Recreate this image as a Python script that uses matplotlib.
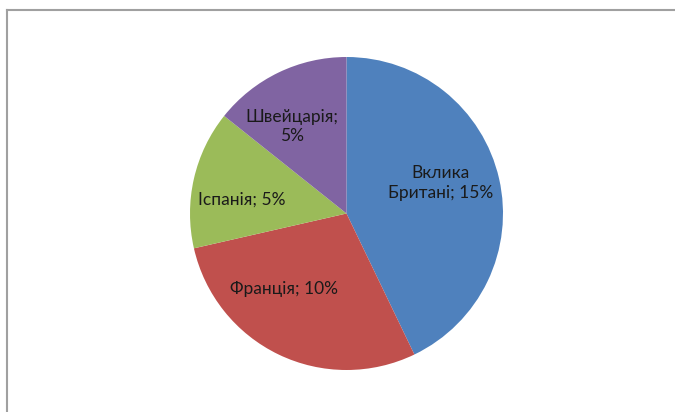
import matplotlib.pyplot as plt
from matplotlib.lines import Line2D

# частки країн
countries = ['Вклика\nБритані', 'Франція', 'Іспанія', 'Швейцарія;\n']
shares = [15, 10, 5, 5]
colors = ['#4F81BD', '#C0504D', '#9BBB59', '#8064A2']

labels = []
for name, v in zip(countries, shares):
    if name.endswith('\n'):
        labels.append(name + '%d%%' % v)
    else:
        labels.append('%s; %d%%' % (name, v))

# де стоять підписи всередині секторів (в радіусах круга)
label_pos = [(0.60, 0.195), (-0.40, -0.48), (-0.67, 0.086), (-0.35, 0.556)]

fig = plt.figure(figsize=(6.75, 4.12), dpi=100)
fig.patch.set_facecolor('white')

ax = fig.add_axes([(346.5 - 156.5) / 675, (412 - 213.5 - 156.5) / 412,
                   313 / 675, 313 / 412])
wedges, texts = ax.pie(shares, labels=labels, colors=colors, startangle=90,
                       counterclock=False, labeldistance=0.64,
                       wedgeprops={'linewidth': 0},
                       textprops={'ha': 'center', 'va': 'center',
                                  'multialignment': 'center',
                                  'linespacing': 1.3,
                                  'fontsize': 12.5, 'family': 'Lato',
                                  'color': '#1a1a1a'})
for t, p in zip(texts, label_pos):
    t.set_position(p)
ax.set_xlim(-1, 1)
ax.set_ylim(-1, 1)
ax.set_aspect('equal')

# рамка області діаграми
top = 1 - 10 / 412
left = 7 / 675
fig.add_artist(Line2D([left, 1], [top, top], transform=fig.transFigure,
                      color='#a0a0a0', linewidth=1.5))
fig.add_artist(Line2D([left, left], [0, top], transform=fig.transFigure,
                      color='#a0a0a0', linewidth=1.5))

fig.savefig('out.png', dpi=100)
